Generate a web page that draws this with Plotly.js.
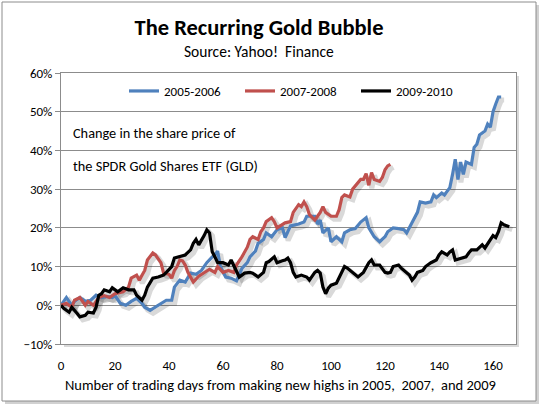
<!DOCTYPE html>
<html><head><meta charset="utf-8">
<script src="https://cdn.plot.ly/plotly-3.0.1.min.js"></script>
<style>html,body{margin:0;padding:0;background:#fff}#chart{width:539px;height:405px}</style>
</head><body><div id="chart"></div>
<script>
// ---- data (percent change vs trading days) ----
const days2005 = [0,2,4,5,7,9,11,13,15,17,19,20,22,24,26,28,30,31,33,35,37,39,41,42,44,46,48,50,52,54,56,57,58,59,61,63,65,66,67,69,70,72,73,75,76,78,80,82,83,84,85,88,90,91,94,95,96,97,99,100,102,104,105,107,109,111,113,114,116,118,120,121,123,125,127,128,130,131,132,133,135,137,138,139,141,142,144,145,146,147,148,149,150,152,153,154,155,157,158,159,160,161,162,163];
const vals2005 = [0,2,0,1,2,1,1.3,2.6,2,2.3,2,2.5,0.5,0,1,1.8,0.5,-0.5,-1.3,-0.5,0.3,1.3,1.3,4.7,6.5,6,8.3,8,9,11,12.5,13,14,10,7.3,7,6.3,8,9.5,11,12.5,14,16,17,18.7,17.7,19.5,20,17.5,19,20.5,21,21.5,23,23,21,22,18.7,20,16.4,17.7,16.4,18.7,19.5,19.8,21.5,22.6,20,17.7,16.4,17.7,19,20,19.8,19.5,18.7,21.5,22.6,24,26.7,26.4,26.7,28.5,27.8,29,28.5,30.4,33.8,37.7,32.5,37,33.8,37,36.4,40.8,41.6,44,45,46.8,46,50,52,53.8,53.8];

const days2007 = [0,2,4,5,7,9,10,12,14,16,18,20,23,25,26,28,29,31,32,34,35,37,38,40,41,42,43,44,45,46,47,49,51,53,55,57,58,60,62,64,65,67,68,69,70,71,73,74,75,76,78,79,80,82,83,85,86,88,89,90,91,92,94,95,96,97,98,100,102,103,104,105,107,108,110,111,112,113,114,115,116,118,119,120,121,122];
const vals2007 = [0,0.5,-0.5,1.3,2,0,1,0,2,2.5,2,3,3.5,4.7,7,7.8,6.5,9,11.7,13.5,13,11,8.3,8,7,9,10,11.7,11.5,10.4,8.5,6,7.5,8.5,9.3,8.5,10,8.5,9,8.5,10.4,12.5,13.8,15,17,17.7,17,19,20,21.6,22.6,21.6,20,20.8,21.3,21.6,24,26,25.5,26.7,25.5,23.4,22,23,24,25.5,24,23,23,24.7,27.8,28.5,28,30,31.7,32.5,32.5,34,31,34.3,32.5,32,33,35,36,36.4];

const days2009 = [0,1,3,4,6,7,9,10,12,13,14,15,16,18,19,21,23,25,27,28,30,31,32,34,36,38,39,41,42,44,46,48,49,50,51,53,54,55,56,57,58,60,62,63,65,66,67,68,70,71,73,75,76,77,79,80,82,83,84,85,86,87,89,91,92,94,95,96,97,98,99,100,102,103,104,105,106,108,109,110,112,113,114,115,116,118,119,120,121,122,123,125,126,128,129,130,131,132,134,135,137,139,140,141,143,144,145,146,148,150,151,152,154,155,156,157,158,160,161,162,163,164,166];
const vals2009 = [0,-0.8,-1.8,-0.5,-2.1,-3,-2.6,-1.8,-2,-0.5,2.6,3,4,3.5,4.5,3.5,4.5,4,4,2.6,1.3,2.6,4.7,7,7.3,7.8,8.5,10,12.2,12.5,13,14.3,16,17,15.6,18,19.5,18.7,13.8,12.5,11,11,10.4,11.7,8.5,7.3,7.8,8.3,8.5,8.3,7.3,8.5,11,11.3,12.5,11,11.5,11.7,12.2,11,8.5,7.3,7.8,7.3,6.5,8.5,9,8.3,4.7,3,4.4,5.2,5.7,7.3,8.5,10,9.6,8.5,7.8,7.3,8.5,9.6,11,11.7,10.4,10.4,9.6,8.5,8.3,8.5,10,10.4,9.6,8.3,7.8,6.5,7.3,8.5,9,10,11,11.7,13,13.8,13,13.8,14.3,11.7,12.2,12.5,13.5,14.3,14.3,15,15.6,14.8,16,18,17.5,19,21.3,20.8,20.3];

const seriesNames = ['2005-2006','2007-2008','2009-2010'];
const seriesColors = ['#4F81BD','#C0504D','#000000'];
const xTicks = [0,20,40,60,80,100,120,140,160];

// ---- geometry helpers (plot area in px) ----
const W = 539, H = 405;
const PL = 61, PR = 516, PT = 73, PB = 344;
const px2x = p => (p - PL) / (PR - PL);
const px2y = p => (PB - p) / (PB - PT);
const XR = [0, 168.5], YR = [-10, 60];
const dxShift = 3 * (XR[1]-XR[0]) / (PR-PL);
const dyShift = 3 * (YR[1]-YR[0]) / (PB-PT);

const FONT = 'Carlito, Lato, sans-serif';
const days = [days2005, days2007, days2009];
const vals = [vals2005, vals2007, vals2009];

const traces = [];
// soft drop shadows (same data, on an offset pair of hidden axes)
for (let i = 0; i < 3; i++) {
  traces.push({x: days[i], y: vals[i], xaxis: 'x', yaxis: 'y', type: 'scatter', mode: 'lines',
    line: {color: 'rgba(0,0,0,0.15)', width: 5}, showlegend: false, hoverinfo: 'skip'});
}
for (let i = 0; i < 3; i++) {
  traces.push({x: days[i], y: vals[i], xaxis: 'x2', yaxis: 'y2', type: 'scatter', mode: 'lines',
    name: seriesNames[i], line: {color: seriesColors[i], width: 3.2}});
}

const layout = {
  width: W, height: H,
  margin: {l: PL, r: W - PR, t: PT, b: H - PB},
  paper_bgcolor: '#ffffff', plot_bgcolor: '#ffffff',
  font: {family: FONT, size: 13, color: '#000'},
  title: {text: '<b>The Recurring Gold Bubble</b>', font: {family: FONT, size: 22.5, color: '#000'},
    xref: 'paper', x: px2x(259), xanchor: 'center', yref: 'container', y: 1 - 27/H, yanchor: 'middle'},
  showlegend: true,
  legend: {orientation: 'h', x: px2x(124), xanchor: 'left', y: px2y(91), yanchor: 'middle',
    entrywidth: 71, entrywidthmode: 'pixels', font: {family: FONT, size: 13}, bgcolor: 'rgba(0,0,0,0)', traceorder: 'normal'},
  xaxis: {range: [XR[0]-dxShift, XR[1]-dxShift], visible: false, fixedrange: true},
  yaxis: {range: [YR[0]+dyShift, YR[1]+dyShift], visible: false, fixedrange: true},
  xaxis2: {overlaying: 'x', anchor: 'y2', side: 'bottom', range: XR, tickvals: xTicks, ticks: '',
    showgrid: false, zeroline: false, showline: true, mirror: true, linecolor: '#8c8c8c', linewidth: 1,
    tickfont: {family: FONT, size: 13}, ticklabelstandoff: 9},
  xaxis3: {overlaying: 'x', anchor: 'free', position: px2y(305), side: 'bottom', range: XR,
    tick0: 0, dtick: 1, ticks: 'outside', ticklen: 4, tickcolor: '#8c8c8c', tickwidth: 1,
    showticklabels: false, showgrid: false, zeroline: false, showline: false},
  yaxis2: {overlaying: 'y', anchor: 'x2', side: 'left', range: YR, dtick: 10, ticksuffix: '%',
    showgrid: true, gridcolor: '#8c8c8c', gridwidth: 1, zeroline: false, showline: true, mirror: true,
    linecolor: '#8c8c8c', ticks: 'outside', ticklen: 5, tickcolor: '#8c8c8c',
    tickfont: {family: FONT, size: 13}},
  annotations: [
    {text: 'Source: Yahoo!  Finance', xref: 'paper', yref: 'paper', x: px2x(259), y: px2y(52),
      xanchor: 'center', yanchor: 'middle', showarrow: false, font: {family: FONT, size: 15.5}},
    {text: 'Change in the share price of', xref: 'paper', yref: 'paper', x: px2x(71), y: px2y(133),
      xanchor: 'left', yanchor: 'middle', showarrow: false, font: {family: FONT, size: 14.3}},
    {text: 'the SPDR Gold Shares ETF (GLD)', xref: 'paper', yref: 'paper', x: px2x(71), y: px2y(166),
      xanchor: 'left', yanchor: 'middle', showarrow: false, font: {family: FONT, size: 14.3}},
    {text: 'Number of trading days from making new highs in 2005,  2007,  and 2009', xref: 'paper', yref: 'paper',
      x: px2x(280), y: px2y(385), xanchor: 'center', yanchor: 'middle', showarrow: false, font: {family: FONT, size: 14.5}}
  ],
  shapes: [
    {type: 'rect', xref: 'paper', yref: 'paper', layer: 'below', x0: px2x(5), x1: px2x(539), y0: px2y(404), y1: px2y(5),
      fillcolor: 'rgba(0,0,0,0.18)', line: {width: 0}},
    {type: 'rect', xref: 'paper', yref: 'paper', layer: 'below', x0: px2x(2), x1: px2x(536), y0: px2y(401), y1: px2y(2),
      fillcolor: '#ffffff', line: {color: '#8c8c8c', width: 1}},
    {type: 'rect', xref: 'paper', yref: 'paper', layer: 'below', x0: px2x(PL+3), x1: px2x(PR+3), y0: px2y(PB+3), y1: px2y(PT+3),
      fillcolor: 'rgba(0,0,0,0.15)', line: {width: 0}},
    {type: 'rect', xref: 'paper', yref: 'paper', layer: 'below', x0: 0, x1: 1, y0: 0, y1: 1,
      fillcolor: '#ffffff', line: {width: 0}}
  ]
};

Plotly.newPlot('chart', traces, layout, {staticPlot: true, displayModeBar: false});
</script></body></html>
